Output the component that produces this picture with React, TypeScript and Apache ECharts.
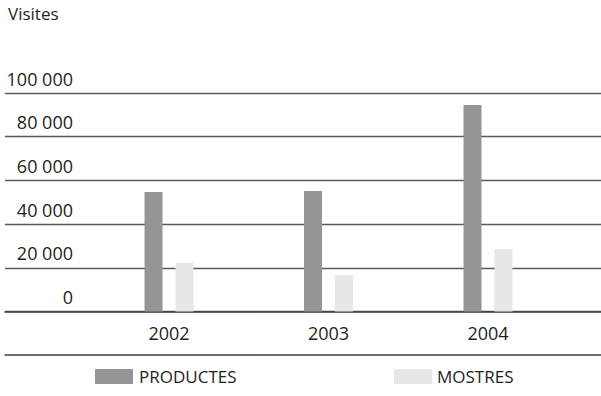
import React, { useEffect, useRef } from "react";
import * as echarts from "echarts";

const categories = ["2002", "2003", "2004"];
const productes = [54700, 55200, 94500];
const mostres = [22200, 16700, 28600];
const seriesNames = ["PRODUCTES", "MOSTRES"];
const yTitle = "Visites";
const yMin = 0;
const yMax = 100000;
const yStep = 20000;

const FONT = "Open Sans";
const TXT = "#231f20";
const FS = 18;

function fmt(v: number): string {
  return String(v).replace(/\B(?=(\d{3})+(?!\d))/g, " ");
}

export default function App() {
  const ref = useRef<HTMLDivElement>(null);
  useEffect(() => {
    if (!ref.current) return;
    const chart = echarts.init(ref.current, null, { renderer: "svg" });
    const gridTop = 93;
    const gridH = 218.5;
    chart.setOption({
      animation: false,
      backgroundColor: "#ffffff",
      textStyle: { fontFamily: FONT, color: TXT },
      title: {
        text: yTitle,
        left: 8,
        top: 5,
        padding: 0,
        textStyle: { fontFamily: FONT, fontSize: 17, fontWeight: "normal", color: TXT },
      },
      legend: [
        {
          data: [seriesNames[0]],
          left: 95,
          top: 368,
          padding: 0,
          itemWidth: 38,
          itemHeight: 15,
          itemGap: 0,
          icon: "rect",
          textStyle: { fontFamily: FONT, fontSize: 17, color: TXT, padding: [0, 0, 0, 1] },
        },
        {
          data: [seriesNames[1]],
          left: 394,
          top: 368,
          padding: 0,
          itemWidth: 38,
          itemHeight: 15,
          itemGap: 0,
          icon: "rect",
          textStyle: { fontFamily: FONT, fontSize: 17, color: TXT, padding: [0, 0, 0, 0] },
        },
      ],
      grid: [
        { left: 5, right: 0, top: gridTop, height: gridH },
        { left: 89.25, right: 33.25, top: gridTop, height: gridH },
      ],
      xAxis: [
        {
          gridIndex: 0,
          type: "value",
          min: 0,
          max: 1,
          axisLine: { show: true, lineStyle: { color: "#414042", width: 1.5 } },
          axisTick: { show: false },
          axisLabel: { show: false },
          splitLine: { show: false },
        },
        {
          gridIndex: 0,
          type: "value",
          min: 0,
          max: 1,
          position: "bottom",
          offset: 42.8,
          axisLine: { show: true, lineStyle: { color: "#414042", width: 1.5 } },
          axisTick: { show: false },
          axisLabel: { show: false },
          splitLine: { show: false },
        },
        {
          gridIndex: 1,
          type: "category",
          data: categories,
          axisLine: { show: false },
          axisTick: { show: false },
          axisLabel: {
            margin: 12,
            fontFamily: FONT,
            fontSize: FS,
            color: TXT,
          },
        },
      ],
      yAxis: [
        {
          gridIndex: 0,
          type: "value",
          min: yMin,
          max: yMax,
          interval: yStep,
          axisLine: { show: false },
          axisTick: { show: false },
          splitLine: { show: true, lineStyle: { color: "#58595b", width: 1.3 } },
          axisLabel: {
            inside: true,
            margin: 68,
            align: "right",
            verticalAlign: "bottom",
            lineHeight: 29,
            fontFamily: FONT,
            fontSize: FS,
            color: TXT,
            formatter: (v: number) => fmt(v),
          },
        },
        {
          gridIndex: 1,
          type: "value",
          min: yMin,
          max: yMax,
          interval: yStep,
          show: false,
        },
      ],
      series: [
        {
          name: seriesNames[0],
          type: "bar",
          xAxisIndex: 2,
          yAxisIndex: 1,
          data: productes,
          barWidth: 18,
          barGap: "72%",
          itemStyle: { color: "#939598" },
        },
        {
          name: seriesNames[1],
          type: "bar",
          xAxisIndex: 2,
          yAxisIndex: 1,
          data: mostres,
          barWidth: 18,
          barGap: "72%",
          itemStyle: { color: "#e6e7e8" },
        },
      ],
    });
    return () => chart.dispose();
  }, []);
  return (
    <div
      ref={ref}
      style={{ position: "fixed", left: 0, top: 0, width: 601, height: 396, background: "#fff" }}
    />
  );
}
